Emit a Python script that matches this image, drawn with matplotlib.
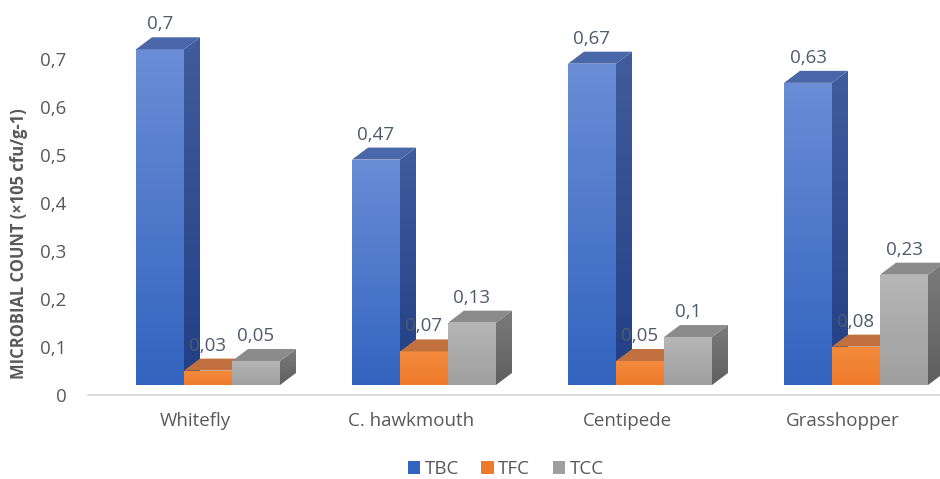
import numpy as np
import matplotlib
matplotlib.use("Agg")
import matplotlib.pyplot as plt
from matplotlib.patches import Polygon, Patch
from matplotlib.colors import LinearSegmentedColormap

plt.rcParams['font.family'] = ['Open Sans', 'DejaVu Sans']

categories = ["Whitefly", "C. hawkmouth", "Centipede", "Grasshopper"]
series = ["TBC", "TFC", "TCC"]
tbc = [0.70, 0.47, 0.67, 0.63]
tfc = [0.03, 0.07, 0.05, 0.08]
tcc = [0.05, 0.13, 0.10, 0.23]
yticks = [0, 0.1, 0.2, 0.3, 0.4, 0.5, 0.6, 0.7]

values = [tbc, tfc, tcc]

# face colours per series: (front top, front bottom), top face, (side top, side bottom)
styles = [
    dict(front=("#6a8dd6", "#3264bf"), top="#4a67a9", side=("#3f5d9c", "#223f85")),
    dict(front=("#f48a3e", "#ee7a2b"), top="#c3703f", side=("#b8612a", "#a4531f")),
    dict(front=("#b6b6b6", "#9f9f9f"), top="#8b8b8b", side=("#7b7b7b", "#5f5f5f")),
]

text_col = "#595959"
label_col = "#4f5a6b"
fs = 13.5

W, H, DPI = 940, 479, 100
fig = plt.figure(figsize=(W / DPI, H / DPI), dpi=DPI)

px_per_cat = 216.0
px_per_val = 479.6
ax_left_px, ax_bottom_px = 88, 84
ax = fig.add_axes([ax_left_px / W, ax_bottom_px / H, 1 - ax_left_px / W, 1 - ax_bottom_px / H])
xlim = ((88 - 208) / px_per_cat, (940 - 208) / px_per_cat)
ylim = (0, (H - ax_bottom_px) / px_per_val)

bar_w = 48 / px_per_cat
dx = 16 / px_per_cat
dy = 12 / px_per_val
base = 10 / px_per_val


def grad_fill(ax, verts, c_top, c_bot, z):
    xs = [v[0] for v in verts]
    ys = [v[1] for v in verts]
    cmap = LinearSegmentedColormap.from_list("g", [c_bot, c_top])
    img = ax.imshow(np.linspace(0, 1, 64).reshape(-1, 1), cmap=cmap, origin="lower",
                    extent=(min(xs), max(xs), min(ys), max(ys)), aspect="auto",
                    zorder=z, interpolation="bilinear")
    clip = Polygon(verts, closed=True, facecolor="none", edgecolor="none",
                   transform=ax.transData)
    img.set_clip_path(clip)


z = 2
for i, cat in enumerate(categories):
    for j, vals in enumerate(values):
        v = vals[i]
        st = styles[j]
        x0 = i + (j - 1.5) * bar_w
        x1 = x0 + bar_w
        yb = base
        yt = base + v
        front = [(x0, yb), (x1, yb), (x1, yt), (x0, yt)]
        top = [(x0, yt), (x1, yt), (x1 + dx, yt + dy), (x0 + dx, yt + dy)]
        side = [(x1, yb), (x1 + dx, yb + dy), (x1 + dx, yt + dy), (x1, yt)]
        grad_fill(ax, side, st["side"][0], st["side"][1], z)
        grad_fill(ax, front, st["front"][0], st["front"][1], z + 0.1)
        ax.add_patch(Polygon(top, closed=True, facecolor=st["top"], edgecolor="none",
                             zorder=z + 0.2))
        ax.text(x0 + bar_w / 2, yt + dy + 13 / px_per_val, f"{v:g}".replace(".", ","),
                ha="center", va="center", fontsize=fs, color=label_col, zorder=50)
        z += 1

ax.set_xlim(*xlim)
ax.set_ylim(*ylim)

ax.set_yticks(yticks)
ax.set_yticklabels([f"{t:g}".replace(".", ",") for t in yticks])
ax.set_xticks([i - 0.06 for i in range(len(categories))])
ax.set_xticklabels(categories)
ax.tick_params(axis="y", length=0, pad=15.5, labelsize=fs, labelcolor=text_col)
ax.tick_params(axis="x", length=0, pad=12, labelsize=fs, labelcolor=text_col)

for s in ["top", "right", "left"]:
    ax.spines[s].set_visible(False)
ax.spines["bottom"].set_color("#d9d9d9")
ax.spines["bottom"].set_linewidth(1.3)
ax.set_facecolor("none")

fig.text(19 / W, 1 - 244 / H, "MICROBIAL COUNT (×105 cfu/g-1)", rotation=90,
         ha="center", va="center", fontsize=11.9, fontweight="bold", color=text_col)

handles = [Patch(facecolor=styles[k]["front"][1], edgecolor="none") for k in range(3)]
fig.legend(handles, series, loc="center", bbox_to_anchor=(0.538, 10 / H), ncol=3,
           frameon=False, fontsize=fs, labelcolor=text_col, handlelength=0.65,
           handleheight=0.65, handletextpad=0.25, columnspacing=1.2,
           borderpad=0.1)

fig.savefig("out.png", dpi=DPI)
